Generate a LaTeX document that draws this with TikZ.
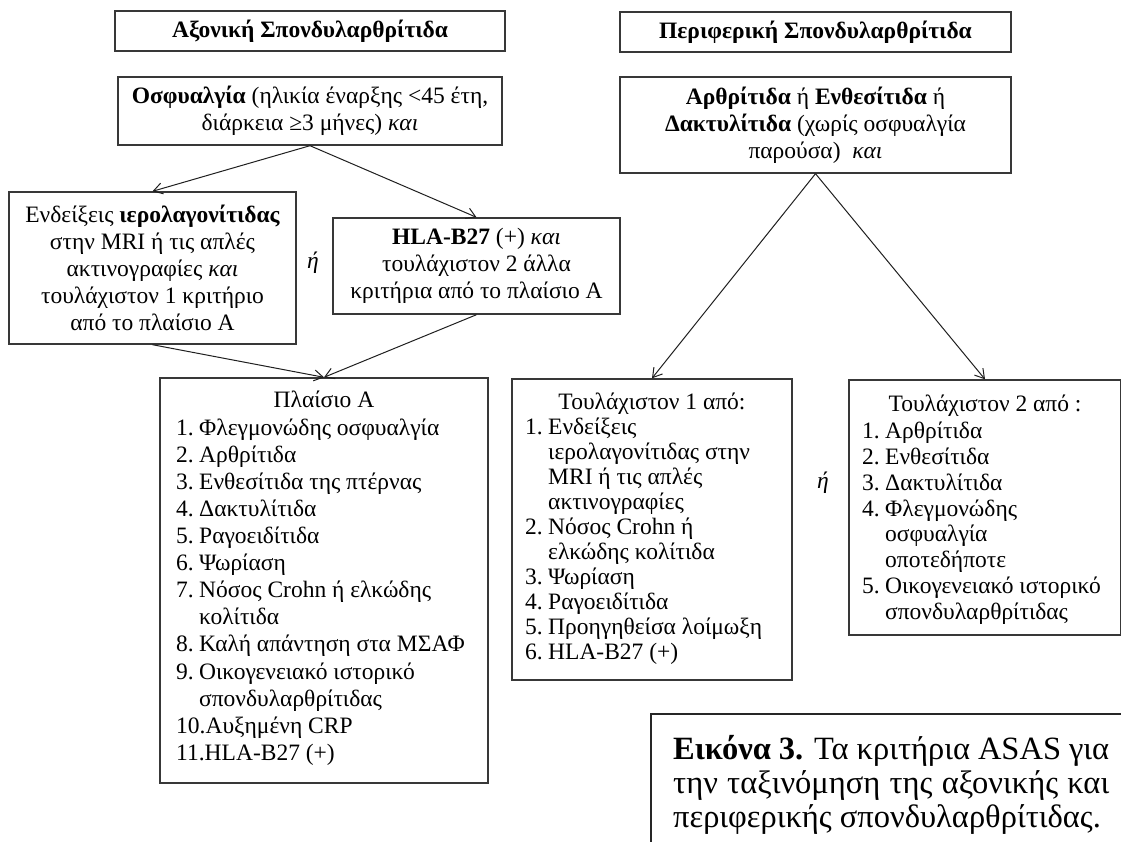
\documentclass[tikz,border=0pt]{standalone}
\usepackage{fontspec}
\setmainfont{Liberation Serif}
\usetikzlibrary{arrows.meta}
% hanging-indent helpers for the numbered lists
\newcommand\lnum[1]{\makebox[23pt][l]{#1}}
\newcommand\lcont{\hspace*{23pt}}
\newcommand\bodyfont{\fontsize{23.5}{27.1}\selectfont}
\newcommand\headfont{\fontsize{23.5}{27}\selectfont\bfseries}
\newcommand\capfont{\fontsize{32.5}{34}\selectfont}
\begin{document}
\begin{tikzpicture}[x=1pt,y=-1pt,
  frame/.style={draw=black!78, line width=1.4pt, inner sep=0pt},
  body/.style={font=\bodyfont, inner sep=0pt, align=center},
  listtext/.style={font=\bodyfont, inner sep=0pt, align=left, anchor=north west},
  link/.style={draw=black!88, line width=1pt, -{Straight Barb[length=9pt,width=11pt]}},
  orlabel/.style={font=\bodyfont\itshape, inner sep=0pt}
]
\useasboundingbox (0,0) rectangle (1121,841);
\clip (0,0) rectangle (1121,841);

% column headings
\node[frame, minimum width=390, minimum height=40, font=\headfont] (hA) at (310,31) {Αξονική Σπονδυλαρθρίτιδα};
\node[frame, minimum width=391, minimum height=40, font=\headfont] (hP) at (815.5,32) {Περιφερική Σπονδυλαρθρίτιδα};

% entry conditions
\node[frame, body, minimum width=384, minimum height=68] (b3) at (310,111)
  {{\bfseries Οσφυαλγία} (ηλικία έναρξης <45 έτη,\\ διάρκεια ≥3 μήνες) {\itshape και}};
\node[frame, body, minimum width=391, minimum height=96] (b4) at (815.5,125)
  {{\bfseries Αρθρίτιδα} ή {\bfseries Ενθεσίτιδα} ή\\ {\bfseries Δακτυλίτιδα} (χωρίς οσφυαλγία\\ παρούσα)\ \ {\itshape και}};

% axial branches
\node[frame, body, minimum width=287, minimum height=152] (b5) at (152.5,268)
  {Ενδείξεις {\bfseries ιερολαγονίτιδας}\\ στην MRI ή τις απλές\\ ακτινογραφίες {\itshape και}\\ τουλάχιστον 1 κριτήριο\\ από το πλαίσιο Α};
\node[frame, body, minimum width=287, minimum height=96] (b6) at (476.5,266)
  {{\bfseries HLA-B27} (+) {\itshape και}\\ τουλάχιστον 2 άλλα\\ κριτήρια από το πλαίσιο Α};
\node[orlabel] (or1) at (313,263) {ή};

% box A
\node[frame, minimum width=328, minimum height=405] (pA) at (324,580.5) {};
\node[body, anchor=base] (pAt) at (324,407) {Πλαίσιο Α};
\node[listtext] (pAl) at (176,416) {\strut\lnum{1.}Φλεγμονώδης οσφυαλγία\\
\lnum{2.}Αρθρίτιδα\\
\lnum{3.}Ενθεσίτιδα της πτέρνας\\
\lnum{4.}Δακτυλίτιδα\\
\lnum{5.}Ραγοειδίτιδα\\
\lnum{6.}Ψωρίαση\\
\lnum{7.}Νόσος Crohn ή ελκώδης\\
\lcont κολίτιδα\\
\lnum{8.}Καλή απάντηση στα ΜΣΑΦ\\
\lnum{9.}Οικογενειακό ιστορικό\\
\lcont σπονδυλαρθρίτιδας\\
10.Αυξημένη CRP\\
11.HLA-B27 (+)};

% peripheral: at least one of
\node[frame, minimum width=280, minimum height=301] (mid) at (652,529.5) {};
\node[body, anchor=base] (midt) at (652,409) {Τουλάχιστον 1 από:};
\node[listtext, font=\fontsize{23.5}{25}\selectfont] (midl) at (525,416.5) {\strut\lnum{1.}Ενδείξεις\\
\lcont ιερολαγονίτιδας στην\\
\lcont MRI ή τις απλές\\
\lcont ακτινογραφίες\\
\lnum{2.}Νόσος Crohn ή\\
\lcont ελκώδης κολίτιδα\\
\lnum{3.}Ψωρίαση\\
\lnum{4.}Ραγοειδίτιδα\\
\lnum{5.}Προηγηθείσα λοίμωξη\\
\lnum{6.}HLA-B27 (+)};

% peripheral: at least two of
\node[frame, minimum width=272, minimum height=255] (rt) at (985,507.5) {};
\node[body, anchor=base] (rtt) at (985,411) {Τουλάχιστον 2 από :};
\node[listtext, font=\fontsize{23.5}{25.9}\selectfont] (rtl) at (862,420) {\strut\lnum{1.}Αρθρίτιδα\\
\lnum{2.}Ενθεσίτιδα\\
\lnum{3.}Δακτυλίτιδα\\
\lnum{4.}Φλεγμονώδης\\
\lcont οσφυαλγία\\
\lcont οποτεδήποτε\\
\lnum{5.}Οικογενειακό ιστορικό\\
\lcont σπονδυλαρθρίτιδας};
\node[orlabel] (or2) at (823,483) {ή};

% connectors
\draw[link] (b3.south) -- (b5.north);
\draw[link] (b3.south) -- (b6.north);
\draw[link] (b5.south) -- (pA.north);
\draw[link] (b6.south) -- (pA.north);
\draw[link] (b4.south) -- (mid.north);
\draw[link] (b4.south) -- (rt.north);

% caption
\node[frame, line width=1.8pt, draw=black!85, minimum width=520, minimum height=180, anchor=north west] (cap) at (650,713) {};
\node[font=\capfont, inner sep=0pt, align=left, anchor=north west] (captxt) at (673,735)
  {\strut\makebox[436pt][s]{{\bfseries Εικόνα 3.} Τα κριτήρια ASAS για}\\
   \makebox[436pt][s]{την ταξινόμηση της αξονικής και}\\
   περιφερικής σπονδυλαρθρίτιδας.};
\end{tikzpicture}
\end{document}
